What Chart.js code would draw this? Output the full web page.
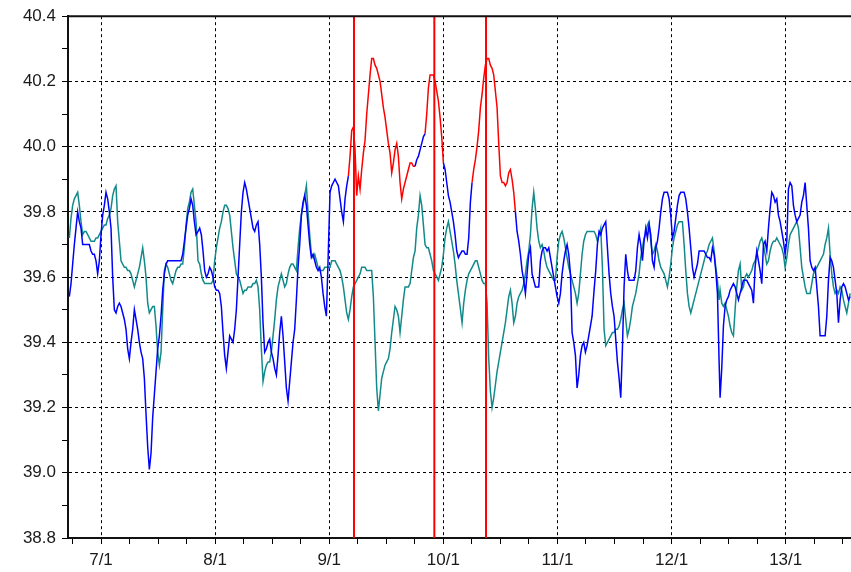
<!DOCTYPE html>
<html>
<head>
<meta charset="utf-8">
<script src="https://cdn.jsdelivr.net/npm/chart.js@4/dist/chart.umd.min.js"></script>
<style>
    html, body { margin: 0; padding: 0; background: #fff; }
    #wrap { width: 851px; height: 572px; position: relative; }
</style>
</head>
<body>
<div id="wrap"><canvas id="chart"></canvas></div>
<script>
// Readings are taken every ~5.3 days; each run starts at the given decimal year (7 = 2007/1)
const runStep = 0.01461;
const runStarts = [6.7225, 7.8501, 9.0070, 10.1639, 11.3208, 12.4251];

const blueRun1 = [
    39.54, 39.58, 39.64, 39.70, 39.75, 39.80, 39.77, 39.75, 39.70, 39.70,
    39.70, 39.70, 39.70, 39.68, 39.67, 39.67, 39.65, 39.61, 39.65, 39.73,
    39.79, 39.82, 39.86, 39.84, 39.80, 39.75, 39.60, 39.50, 39.49, 39.51,
    39.52, 39.51, 39.49, 39.47, 39.44, 39.38, 39.35, 39.40, 39.44, 39.50,
    39.47, 39.44, 39.40, 39.37, 39.35, 39.29, 39.18, 39.08, 39.01, 39.06,
    39.17, 39.24, 39.31, 39.38, 39.42, 39.48, 39.56, 39.61, 39.64, 39.65,
    39.65, 39.65, 39.65, 39.65, 39.65, 39.65, 39.65, 39.65, 39.67, 39.71,
    39.75, 39.79, 39.81, 39.84, 39.82, 39.77, 39.73
];
const blueRun2 = [
    39.74, 39.75, 39.73, 39.68, 39.62, 39.60, 39.61, 39.63, 39.62, 39.60,
    39.57, 39.56, 39.56, 39.55, 39.51, 39.43, 39.36, 39.32, 39.37, 39.42,
    39.41, 39.40, 39.44, 39.50, 39.60, 39.70, 39.80, 39.86, 39.89, 39.87,
    39.84, 39.81, 39.78, 39.75, 39.74, 39.76, 39.77, 39.70, 39.60, 39.46,
    39.37, 39.38, 39.40, 39.41, 39.37, 39.35, 39.32, 39.30, 39.36, 39.43,
    39.48, 39.42, 39.34, 39.26, 39.22, 39.28, 39.34, 39.40, 39.44, 39.53,
    39.63, 39.70, 39.79, 39.83, 39.85, 39.82, 39.76, 39.70, 39.66, 39.67,
    39.65, 39.63, 39.62, 39.63, 39.60, 39.55, 39.51, 39.48, 39.65
];
const blueRun3 = [
    39.86, 39.88, 39.89, 39.90, 39.89, 39.88, 39.84, 39.80, 39.77, 39.84,
    39.88, 39.91, 39.97, 40.05, 40.06, 39.99, 39.85, 39.91, 39.87, 39.93,
    39.98, 40.02, 40.10, 40.16, 40.22, 40.27, 40.27, 40.25, 40.24, 40.22,
    40.20, 40.16, 40.12, 40.09, 40.05, 40.01, 39.98, 39.92, 39.95, 39.99,
    40.01, 39.97, 39.89, 39.84, 39.87, 39.89, 39.91, 39.93, 39.95, 39.95,
    39.94, 39.94, 39.96, 39.97, 39.99, 40.01, 40.03, 40.04, 40.10, 40.18,
    40.22, 40.22, 40.22, 40.20, 40.17, 40.14, 40.09, 40.03, 39.95, 39.93,
    39.89, 39.85, 39.83, 39.80, 39.77, 39.73, 39.68, 39.66, 39.67
];
const blueRun4 = [
    39.68, 39.68, 39.67, 39.67, 39.72, 39.83, 39.89, 39.93, 39.96, 40.00,
    40.05, 40.12, 40.16, 40.21, 40.25, 40.27, 40.27, 40.25, 40.24, 40.22,
    40.17, 40.12, 40.01, 39.91, 39.89, 39.89, 39.88, 39.89, 39.92, 39.93,
    39.90, 39.86, 39.80, 39.74, 39.71, 39.67, 39.62, 39.59, 39.55, 39.61,
    39.67, 39.69, 39.61, 39.59, 39.57, 39.57, 39.57, 39.65, 39.68, 39.69,
    39.69, 39.68, 39.69, 39.66, 39.63, 39.60, 39.57, 39.54, 39.52, 39.55,
    39.61, 39.65, 39.68, 39.70, 39.67, 39.61, 39.43, 39.40, 39.36, 39.26,
    39.30, 39.36, 39.39, 39.40, 39.37, 39.39, 39.42, 39.45, 39.48
];
const blueRun5 = [
    39.56, 39.62, 39.70, 39.74, 39.73, 39.75, 39.76, 39.77, 39.69, 39.61,
    39.55, 39.51, 39.48, 39.41, 39.34, 39.29, 39.23, 39.38, 39.57, 39.67,
    39.62, 39.59, 39.59, 39.59, 39.59, 39.62, 39.69, 39.73, 39.70, 39.65,
    39.71, 39.75, 39.72, 39.76, 39.73, 39.65, 39.63, 39.69, 39.71, 39.75,
    39.80, 39.84, 39.86, 39.86, 39.86, 39.84, 39.79, 39.72, 39.74, 39.78,
    39.82, 39.85, 39.86, 39.86, 39.86, 39.84, 39.80, 39.75, 39.69, 39.63,
    39.60, 39.62, 39.64, 39.68, 39.68, 39.68, 39.68, 39.67, 39.66, 39.66,
    39.65, 39.69, 39.67, 39.62, 39.55, 39.34
];
const blueRun6 = [
    39.23, 39.32, 39.45, 39.51, 39.53, 39.54, 39.56, 39.57, 39.58, 39.57,
    39.55, 39.53, 39.55, 39.57, 39.59, 39.59, 39.59, 39.58, 39.57, 39.56,
    39.52, 39.63, 39.68, 39.65, 39.62, 39.58, 39.70, 39.71, 39.68, 39.75,
    39.81, 39.86, 39.85, 39.83, 39.84, 39.79, 39.77, 39.74, 39.71, 39.67,
    39.71, 39.87, 39.89, 39.88, 39.82, 39.79, 39.77, 39.78, 39.79, 39.83,
    39.85, 39.89, 39.82, 39.75, 39.65, 39.63, 39.62, 39.63, 39.57, 39.51,
    39.42, 39.42, 39.42, 39.42, 39.48, 39.59, 39.66, 39.65, 39.63, 39.59,
    39.55, 39.46, 39.53, 39.57, 39.58, 39.57, 39.55, 39.53, 39.54
];

const tealRun1 = [
    39.72, 39.78, 39.82, 39.84, 39.85, 39.86, 39.82, 39.77, 39.73, 39.74,
    39.74, 39.73, 39.72, 39.71, 39.71, 39.71, 39.72, 39.72, 39.73, 39.74,
    39.75, 39.76, 39.76, 39.78, 39.79, 39.81, 39.85, 39.87, 39.88, 39.77,
    39.71, 39.65, 39.64, 39.63, 39.63, 39.62, 39.62, 39.61, 39.59, 39.57,
    39.59, 39.61, 39.63, 39.66, 39.69, 39.65, 39.60, 39.52, 39.49, 39.50,
    39.51, 39.51, 39.45, 39.37, 39.33, 39.37, 39.50, 39.62, 39.64, 39.63,
    39.61, 39.59, 39.58, 39.60, 39.62, 39.63, 39.63, 39.64, 39.64, 39.69,
    39.76, 39.81, 39.83, 39.86, 39.87, 39.82, 39.77
];
const tealRun2 = [
    39.65, 39.64, 39.61, 39.59, 39.58, 39.58, 39.58, 39.58, 39.58, 39.59,
    39.65, 39.69, 39.72, 39.75, 39.77, 39.80, 39.82, 39.82, 39.81, 39.79,
    39.74, 39.69, 39.65, 39.61, 39.60, 39.59, 39.57, 39.55, 39.56, 39.56,
    39.57, 39.57, 39.57, 39.58, 39.58, 39.59, 39.57, 39.50, 39.38, 39.28,
    39.31, 39.33, 39.34, 39.34, 39.37, 39.42, 39.47, 39.53, 39.57, 39.59,
    39.61, 39.59, 39.57, 39.58, 39.61, 39.63, 39.64, 39.64, 39.63, 39.62,
    39.69, 39.75, 39.79, 39.82, 39.85, 39.88, 39.80, 39.73, 39.67, 39.66,
    39.67, 39.65, 39.63, 39.62, 39.62, 39.62, 39.63, 39.63, 39.63
];
const tealRun3 = [
    39.63, 39.65, 39.65, 39.65, 39.64, 39.63, 39.62, 39.60, 39.57, 39.53,
    39.49, 39.47, 39.50, 39.54, 39.57, 39.58, 39.59, 39.60, 39.61, 39.63,
    39.63, 39.63, 39.62, 39.62, 39.62, 39.62, 39.54, 39.40, 39.26, 39.19,
    39.24, 39.29, 39.31, 39.33, 39.34, 39.35, 39.38, 39.43, 39.47, 39.51,
    39.50, 39.48, 39.43, 39.48, 39.53, 39.57, 39.57, 39.57, 39.58, 39.62,
    39.66, 39.68, 39.75, 39.79, 39.85, 39.82, 39.76, 39.70, 39.69, 39.69,
    39.67, 39.65, 39.62, 39.61, 39.60, 39.59, 39.61, 39.63, 39.67, 39.72,
    39.75, 39.77, 39.74, 39.71, 39.68, 39.64, 39.59, 39.55, 39.51
];
const tealRun4 = [
    39.46, 39.52, 39.56, 39.59, 39.61, 39.62, 39.63, 39.64, 39.65, 39.65,
    39.63, 39.61, 39.59, 39.58, 39.58, 39.52, 39.35, 39.25, 39.20, 39.23,
    39.27, 39.31, 39.34, 39.37, 39.40, 39.43, 39.46, 39.50, 39.54, 39.56,
    39.52, 39.46, 39.48, 39.52, 39.54, 39.55, 39.56, 39.58, 39.61, 39.65,
    39.68, 39.73, 39.81, 39.86, 39.81, 39.75, 39.71, 39.69, 39.70, 39.68,
    39.65, 39.63, 39.62, 39.61, 39.60, 39.59, 39.59, 39.66, 39.71, 39.73,
    39.74, 39.72, 39.69, 39.66, 39.63, 39.61, 39.59, 39.57, 39.55, 39.52,
    39.55, 39.61, 39.67, 39.71, 39.73, 39.74, 39.74, 39.74, 39.74
];
const tealRun5 = [
    39.74, 39.73, 39.71, 39.73, 39.75, 39.63, 39.44, 39.39, 39.40, 39.41,
    39.42, 39.43, 39.43, 39.44, 39.44, 39.45, 39.47, 39.50, 39.52, 39.47,
    39.42, 39.44, 39.47, 39.51, 39.53, 39.55, 39.58, 39.61, 39.66, 39.69,
    39.72, 39.73, 39.76, 39.77, 39.71, 39.67, 39.68, 39.70, 39.68, 39.65,
    39.63, 39.62, 39.61, 39.59, 39.57, 39.60, 39.64, 39.69, 39.72, 39.74,
    39.76, 39.77, 39.77, 39.77, 39.70, 39.62, 39.55, 39.51, 39.49, 39.51,
    39.53, 39.55, 39.57, 39.59, 39.61, 39.63, 39.65, 39.67, 39.68, 39.70,
    39.71, 39.72, 39.68, 39.63, 39.59, 39.53
];
const tealRun6 = [
    39.56, 39.52, 39.51, 39.52, 39.50, 39.48, 39.45, 39.43, 39.42, 39.50,
    39.57, 39.62, 39.64, 39.56, 39.57, 39.60, 39.61, 39.60, 39.61, 39.62,
    39.64, 39.65, 39.67, 39.69, 39.71, 39.72, 39.70, 39.67, 39.64, 39.65,
    39.68, 39.70, 39.71, 39.71, 39.72, 39.71, 39.70, 39.69, 39.67, 39.63,
    39.66, 39.70, 39.73, 39.74, 39.75, 39.76, 39.77, 39.75, 39.69, 39.63,
    39.60, 39.57, 39.55, 39.55, 39.55, 39.58, 39.61, 39.62, 39.63, 39.64,
    39.65, 39.66, 39.67, 39.70, 39.72, 39.75, 39.67, 39.61, 39.57, 39.55,
    39.56, 39.55, 39.57, 39.56, 39.53, 39.51, 39.49, 39.52, 39.55
];

// Periods where the blue trace is highlighted red, and the red marker dates
const redSpans = [[9.165, 9.750], [9.835, 9.998], [10.250, 10.624]];
const markerYears = [9.217, 9.921, 10.374];

const xMin = 6.7108, xMax = 13.5723;
const yMin = 38.8, yMax = 40.4;

function buildPoints(runs) {
    const pts = [];
    runs.forEach((run, r) => {
        run.forEach((v, i) => pts.push({ x: runStarts[r] + i * runStep, y: v }));
    });
    return pts;
}

const inRed = x => redSpans.some(([a, b]) => x >= a && x < b);
const isWhole = (v, step) => Math.abs(v / step - Math.round(v / step)) < 1e-6;

const blueData = buildPoints([blueRun1, blueRun2, blueRun3, blueRun4, blueRun5, blueRun6]);
const tealData = buildPoints([tealRun1, tealRun2, tealRun3, tealRun4, tealRun5, tealRun6]);

const markerSets = markerYears.map(x => ({
    data: [{ x: x, y: yMin }, { x: x, y: yMax }],
    borderColor: '#ff0000',
    borderWidth: 2,
    pointRadius: 0,
    order: 0
}));

// solid frame line along the top of the plot
const topFrame = {
    id: 'topFrame',
    afterDatasetsDraw(chart) {
        const { ctx, chartArea } = chart;
        ctx.save();
        ctx.strokeStyle = '#111';
        ctx.lineWidth = 2;
        ctx.beginPath();
        ctx.moveTo(chartArea.left, chartArea.top);
        ctx.lineTo(chartArea.right, chartArea.top);
        ctx.stroke();
        ctx.restore();
    }
};

const tickFont = { family: '"Liberation Sans", Arial, sans-serif', size: 17 };

new Chart(document.getElementById('chart'), {
    type: 'line',
    data: {
        datasets: [
            ...markerSets,
            {
                data: blueData,
                borderColor: '#0000ff',
                borderWidth: 1.5,
                pointRadius: 0,
                tension: 0,
                order: 1,
                segment: {
                    borderColor: c => inRed(c.p0.parsed.x) ? '#ff0000' : '#0000ff'
                }
            },
            {
                data: tealData,
                borderColor: '#138a8a',
                borderWidth: 1.5,
                pointRadius: 0,
                tension: 0,
                order: 2
            }
        ]
    },
    options: {
        responsive: true,
        maintainAspectRatio: false,
        animation: false,
        layout: { padding: { top: 14, right: 0, bottom: 0, left: 0 } },
        plugins: { legend: { display: false }, tooltip: { enabled: false } },
        scales: {
            x: {
                type: 'linear',
                min: xMin,
                max: xMax,
                afterFit: scale => { scale.height = 34; },
                ticks: {
                    stepSize: 0.25,
                    includeBounds: false,
                    autoSkip: false,
                    maxRotation: 0,
                    padding: 6,
                    color: '#1a1a1a',
                    font: tickFont,
                    callback: v => isWhole(v, 1) ? Math.round(v) + '/1' : ''
                },
                grid: {
                    color: c => isWhole(c.tick.value, 1) ? '#000' : 'rgba(0,0,0,0)',
                    lineWidth: 1,
                    tickColor: '#000',
                    tickLength: 6,
                    tickWidth: 1
                },
                border: { display: true, color: '#111', width: 2, dash: [3, 3] }
            },
            y: {
                min: yMin,
                max: yMax,
                afterFit: scale => { scale.width = 68; },
                ticks: {
                    stepSize: 0.1,
                    autoSkip: false,
                    padding: 6,
                    color: '#1a1a1a',
                    font: tickFont,
                    callback: v => isWhole(v, 0.2) ? v.toFixed(1) : ''
                },
                grid: {
                    color: c => isWhole(c.tick.value, 0.2) ? '#000' : 'rgba(0,0,0,0)',
                    lineWidth: 1,
                    tickColor: '#000',
                    tickLength: 6,
                    tickWidth: 1
                },
                border: { display: true, color: '#111', width: 2, dash: [3, 3] }
            }
        }
    },
    plugins: [topFrame]
});
</script>
</body>
</html>
